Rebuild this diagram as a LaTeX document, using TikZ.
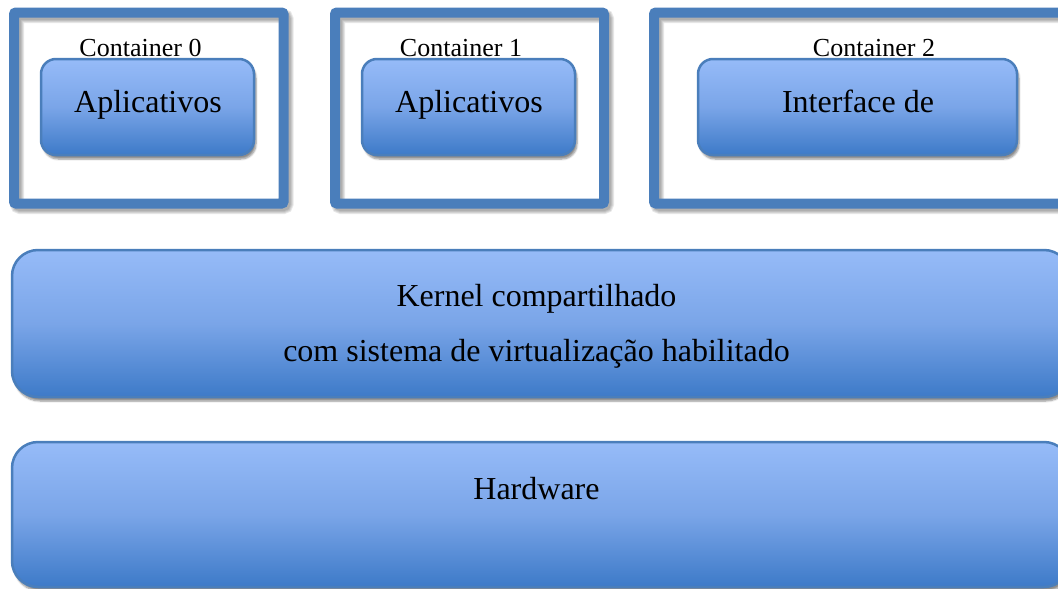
\documentclass[tikz,border=0pt]{standalone}
\usepackage{fontspec}
\setmainfont{Liberation Serif}
\usetikzlibrary{shadows.blur}
\definecolor{framec}{RGB}{74,126,187}
\definecolor{topc}{RGB}{150,187,248}
\definecolor{midc}{RGB}{122,165,232}
\definecolor{botc}{RGB}{61,122,200}
\tikzset{
  frame/.style={draw=framec, line width=10pt, rounded corners=2pt, minimum width=#1, inner sep=0pt,
    minimum height=191pt},
  frameshadow/.style={draw=black, line width=#1, opacity=0.09, rounded corners=3pt},
  bluebox/.style={draw=framec, line width=2.5pt, top color=topc, bottom color=botc, middle color=midc,
    inner sep=0pt, blur shadow={shadow xshift=2pt, shadow yshift=-4pt, shadow blur steps=6, shadow opacity=45}},
  smallbox/.style={bluebox, rounded corners=15pt, minimum height=96pt, minimum width=#1},
  bigbox/.style={bluebox, rounded corners=26pt, minimum width=1058pt, minimum height=#1},
  lbl/.style={anchor=base, inner sep=0pt, font=\fontsize{26}{30}\selectfont},
  txt/.style={anchor=base, inner sep=0pt, font=\fontsize{32}{38}\selectfont},
}
\begin{document}
\begin{tikzpicture}[x=1pt,y=-1pt]
\useasboundingbox (0,0) rectangle (1058,589);
\clip (0,0) rectangle (1058,589);
% frame shadows
\foreach \w in {14pt,12pt,10pt,8pt}{
  \draw[frameshadow=\w] (17,16) rectangle (286.5,207);
  \draw[frameshadow=\w] (338,16) rectangle (607,207);
  \draw[frameshadow=\w] (657,16) rectangle (1113,207);
}
% containers
\node[frame=269.5pt] (c0) at (148.75,108) {};
\node[frame=269pt] (c1) at (469.5,108) {};
\node[frame=456pt] (c2) at (882,108) {};
\node[lbl] (l0) at (140.5,56) {Container 0};
\node[lbl] (l1) at (461,56) {Container 1};
\node[lbl] (l2) at (874,56) {Container 2};
% inner boxes
\node[smallbox=213pt] (a0) at (147.5,107) {};
\node[smallbox=213pt] (a1) at (468.5,107) {};
\node[smallbox=319pt] (a2) at (857.5,107) {};
\node[txt] (t0) at (148,112.7) {Aplicativos};
\node[txt] (t1) at (469,112.7) {Aplicativos};
\node[txt] (t2) at (858,112.7) {Interface de};
% kernel and hardware
\node[bigbox=147pt] (k) at (541,323.5) {};
\node[txt] (k1) at (536.5,306.7) {Kernel compartilhado};
\node[txt] (k2) at (536.5,361.7) {com sistema de virtualização habilitado};
\node[bigbox=145pt] (h) at (541,514.5) {};
\node[txt] (h1) at (536.5,499) {Hardware};
\end{tikzpicture}
\end{document}
